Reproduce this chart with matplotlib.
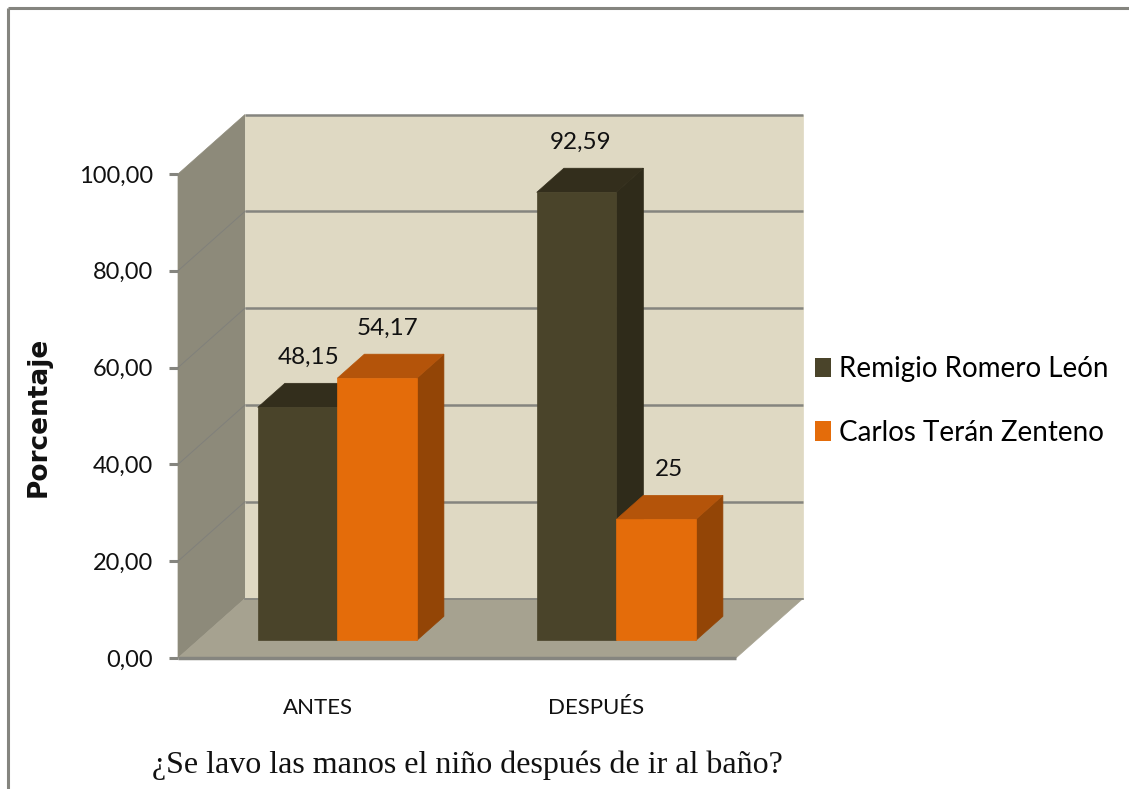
"""Hand-washing survey, before and after, drawn as Excel-style 3D columns."""

import matplotlib
matplotlib.use("Agg")
import matplotlib.pyplot as plt
from matplotlib.lines import Line2D
from matplotlib.patches import Patch, Polygon

CATEGORIES = ["ANTES", "DESPUÉS"]
SERIES_NAMES = ["Remigio Romero León", "Carlos Terán Zenteno"]
REMIGIO = [48.15, 92.59]
CARLOS = [54.17, 25]
REMIGIO_LABELS = ["48,15", "92,59"]
CARLOS_LABELS = ["54,17", "25"]
Y_TICKS = [0, 20, 40, 60, 80, 100]
Y_TICK_LABELS = ["0,00", "20,00", "40,00", "60,00", "80,00", "100,00"]

W, H = 1129, 789
# front plane of the box, in pixels
LEFT, RIGHT, BOTTOM, TOP = 178, 736, 658, 174
# how far the back wall is shifted from the front plane, in data units
DX = 67 / ((RIGHT - LEFT) / 2)
DY = 59.5 / ((BOTTOM - TOP) / 100)

WALL_SIDE = "#8d8a7a"
WALL_BACK = "#dfd9c3"
FLOOR = "#a6a290"
EDGE = "#85857f"
COLORS = {
    "dark": ("#4a442a", "#332e1c", "#2f2b1a"),
    "orange": ("#e46c0a", "#b4540a", "#934506"),
}
BAR_WIDTH = 0.285   # one column, in category units
BAR_D0, BAR_D1 = 0.295, 0.70   # column depth range, 0 is front and 1 is back
FONT = ["Lato", "DejaVu Sans"]


def at(x, v, d):
    """Data position of (x, v) pushed back to depth d."""
    return (x + d * DX, v + d * DY)


def face(ax, pts, color, z):
    ax.add_patch(Polygon(pts, closed=True, fc=color, ec=color, lw=0.5,
                         zorder=z, clip_on=False))


def column(ax, x0, value, colors, z):
    front, top, side = colors
    x1 = x0 + BAR_WIDTH
    face(ax, [at(x1, 0, BAR_D0), at(x1, 0, BAR_D1), at(x1, value, BAR_D1),
              at(x1, value, BAR_D0)], side, z)
    face(ax, [at(x0, value, BAR_D0), at(x1, value, BAR_D0), at(x1, value, BAR_D1),
              at(x0, value, BAR_D1)], top, z)
    face(ax, [at(x0, 0, BAR_D0), at(x1, 0, BAR_D0), at(x1, value, BAR_D0),
              at(x0, value, BAR_D0)], front, z)


fig = plt.figure(figsize=(W / 100, H / 100), dpi=100, facecolor="white")
ax = fig.add_axes([LEFT / W, 1 - BOTTOM / H, (RIGHT - LEFT) / W, (BOTTOM - TOP) / H])
ax.set_xlim(0, len(CATEGORIES))
ax.set_ylim(0, 100)
ax.patch.set_visible(False)
for s in ax.spines.values():
    s.set_visible(False)

# box: side wall, back wall, floor
face(ax, [at(0, 0, 0), at(0, 0, 1), at(0, 100, 1), at(0, 100, 0)], WALL_SIDE, 1)
face(ax, [at(0, 0, 1), at(2, 0, 1), at(2, 100, 1), at(0, 100, 1)], WALL_BACK, 1)
face(ax, [at(0, 0, 0), at(2, 0, 0), at(2, 0, 1), at(0, 0, 1)], FLOOR, 1)

# gridlines run along the back wall and fold forward on the side wall
for v in Y_TICKS[1:]:
    xs, ys = zip(at(0, v, 1), at(2, v, 1))
    ax.plot(xs, ys, color=EDGE, lw=1.8, zorder=2, clip_on=False, solid_capstyle="butt")
    if v < 100:
        xs, ys = zip(at(0, v, 0), at(0, v, 1))
        ax.plot(xs, ys, color="#80807a", lw=0.7, zorder=2, clip_on=False)
xs, ys = zip(at(0, 0, 0), at(2, 0, 0))
ax.plot(xs, ys, color=EDGE, lw=2.5, zorder=2, clip_on=False, solid_capstyle="butt")
xs, ys = zip(at(0, 0, 1), at(2, 0, 1))
ax.plot(xs, ys, color=EDGE, lw=1.2, zorder=2, clip_on=False)

# columns, back to front so each one overlaps the previous side face
label_nudge = [[11, 4.5], [11, 13]]
for i in range(len(CATEGORIES)):
    x_left = i + 0.5 - BAR_WIDTH
    column(ax, x_left, REMIGIO[i], COLORS["dark"], 3 + i)
    column(ax, x_left + BAR_WIDTH, CARLOS[i], COLORS["orange"], 3 + i)
    for j, (vals, labs) in enumerate([(REMIGIO, REMIGIO_LABELS), (CARLOS, CARLOS_LABELS)]):
        x, y = at(x_left + BAR_WIDTH * (j + 0.5), vals[i], BAR_D0)
        ax.annotate(labs[i], (x, y), xytext=(label_nudge[j][i] * 0.72, 36),
                    textcoords="offset points", ha="center", va="center",
                    fontsize=17.5, family=FONT, color="#111111", zorder=8,
                    annotation_clip=False)

ax.set_yticks(Y_TICKS, Y_TICK_LABELS, fontsize=17, family=FONT, color="#111111")
ax.tick_params(axis="y", length=6.5, width=2.2, color=EDGE, pad=11.5)
ax.set_xticks([i + 0.5 for i in range(len(CATEGORIES))], CATEGORIES,
              fontsize=16, family=FONT, color="#111111")
ax.tick_params(axis="x", length=0, pad=29)

fig.text(39 / W, 1 - 417 / H, "Porcentaje", rotation=90, ha="center", va="center",
         fontsize=19, fontweight="bold", family="DejaVu Sans", color="#111111")
fig.text(467 / W, 1 - 765 / H, "¿Se lavo las manos el niño después de ir al baño?",
         ha="center", va="center", fontsize=23, family="Liberation Serif", color="#111111")

handles = [Patch(fc=COLORS["dark"][0]), Patch(fc=COLORS["orange"][0])]
fig.legend(handles, SERIES_NAMES, loc="center left", bbox_to_anchor=(815 / W, 1 - 401 / H),
           frameon=False, handlelength=0.575, handleheight=0.72, handletextpad=0.3,
           labelspacing=1.35, borderpad=0, borderaxespad=0,
           prop={"family": FONT, "size": 20})

# chart area outline: only the top and left edges fall inside the image
for xs, ys in [((7.5, 7.5), (H, 7.5)), ((7.5, W), (7.5, 7.5))]:
    fig.add_artist(Line2D([x / W for x in xs], [1 - y / H for y in ys],
                          color=EDGE, lw=2.2, solid_capstyle="butt"))

fig.savefig("out.png", dpi=100)
